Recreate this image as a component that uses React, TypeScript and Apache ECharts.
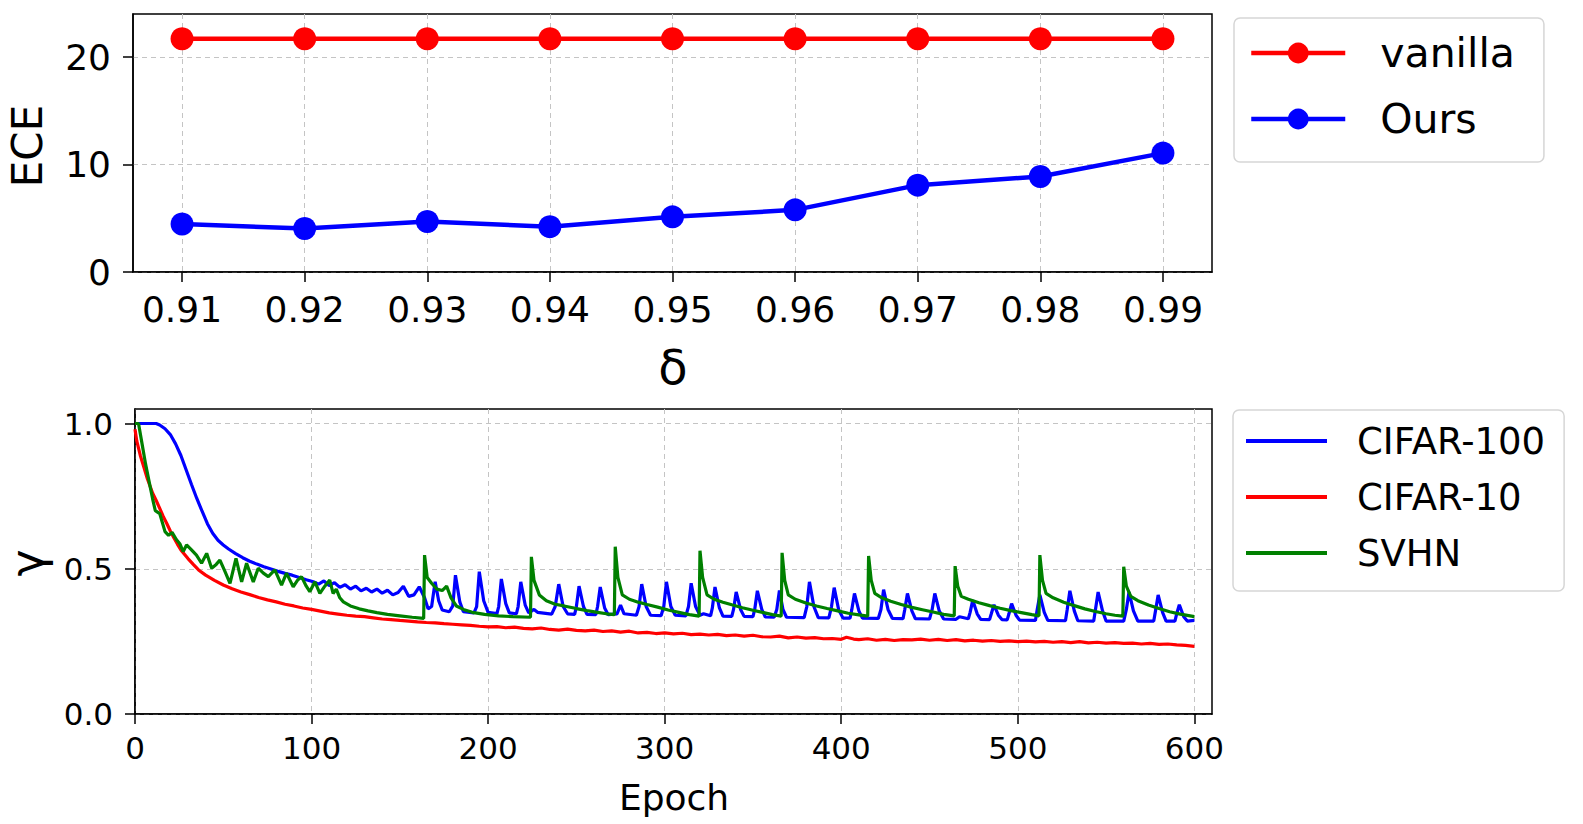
import React, { useEffect, useRef } from "react";
import * as echarts from "echarts";

// ---- top panel: ECE vs delta ----
const DELTAS = [0.91, 0.92, 0.93, 0.94, 0.95, 0.96, 0.97, 0.98, 0.99];
const ECE_VANILLA = [21.7, 21.7, 21.7, 21.7, 21.7, 21.7, 21.7, 21.7, 21.7];
const ECE_OURS = [4.47, 4.04, 4.69, 4.22, 5.13, 5.78, 8.08, 8.88, 11.06];
const ECE_TICKS = [0, 10, 20];

// ---- bottom panel: gamma vs epoch ----
const EPOCH_TICKS = [0, 100, 200, 300, 400, 500, 600];
const GAMMA_TICKS = [0, 0.5, 1.0];

const CIFAR100: number[][] = [
  [0, 1.0], [12, 1.0], [14, 0.995], [17, 0.982], [20, 0.962], [23, 0.93], [26, 0.89], [29, 0.84], [32, 0.79],
  [35, 0.742], [38, 0.698], [41, 0.655], [44, 0.622], [47, 0.598], [50, 0.582], [53, 0.568], [57, 0.552],
  [61, 0.538], [65, 0.526], [69, 0.516], [73, 0.507], [77, 0.499], [81, 0.491], [85, 0.484], [89, 0.478],
  [93, 0.47], [97, 0.462], [101, 0.455], [104, 0.447], [107, 0.458], [110, 0.442], [113, 0.452], [116, 0.436],
  [119, 0.445], [122, 0.43], [125, 0.44], [128, 0.424], [131, 0.433], [134, 0.42], [137, 0.43], [140, 0.416],
  [143, 0.426], [146, 0.41], [149, 0.418], [152, 0.44], [155, 0.405], [158, 0.41], [161, 0.438], [164, 0.4],
  [166, 0.362], [168, 0.37], [170, 0.455], [172, 0.39], [174, 0.358], [178, 0.352], [180, 0.372], [181.5, 0.478],
  [184, 0.385], [186, 0.352], [192, 0.348], [193.5, 0.37], [195, 0.49], [197.5, 0.39], [200, 0.35], [205, 0.346],
  [206, 0.37], [207.5, 0.465], [210, 0.38], [212, 0.348], [216, 0.345], [217, 0.37], [218.5, 0.455], [221, 0.375],
  [223, 0.348], [226, 0.36], [228, 0.35], [236, 0.344], [238, 0.37], [240, 0.447], [242.5, 0.37], [245, 0.345],
  [249, 0.343], [250, 0.37], [251.5, 0.44], [254, 0.37], [256, 0.343], [261, 0.342], [262, 0.37], [263.5, 0.437],
  [266, 0.365], [268, 0.342], [273, 0.345], [275, 0.375], [277, 0.345], [284, 0.34], [285.5, 0.37], [287, 0.447],
  [289.5, 0.37], [292, 0.34], [298, 0.339], [299.5, 0.37], [301, 0.455], [303.5, 0.37], [306, 0.34], [312, 0.338],
  [313.5, 0.37], [315, 0.45], [317.5, 0.37], [320, 0.34], [322, 0.345], [326, 0.338], [327, 0.365], [328.5, 0.437],
  [331, 0.365], [333, 0.337], [338, 0.336], [339, 0.36], [340.5, 0.42], [343, 0.36], [345, 0.336], [350, 0.335],
  [351, 0.36], [352.5, 0.424], [355, 0.36], [357, 0.334], [362, 0.333], [363.5, 0.36], [365, 0.425], [367, 0.36],
  [369, 0.333], [379, 0.332], [380.5, 0.37], [382, 0.455], [384.5, 0.37], [387, 0.332], [393, 0.331], [394.5, 0.37],
  [396, 0.435], [398.5, 0.36], [401, 0.33], [405, 0.33], [406, 0.36], [407.5, 0.415], [410, 0.355], [412, 0.33],
  [421, 0.329], [422.5, 0.36], [424, 0.428], [426.5, 0.36], [429, 0.329], [435, 0.328], [436, 0.36], [437.5, 0.415],
  [440, 0.355], [442, 0.328], [450, 0.327], [451.5, 0.36], [453, 0.415], [455.5, 0.355], [458, 0.327], [465, 0.326],
  [467, 0.335], [472, 0.328], [473, 0.35], [474.5, 0.392], [477, 0.345], [479, 0.326], [484, 0.325], [485, 0.345],
  [486.5, 0.376], [489, 0.34], [491, 0.325], [494, 0.324], [495, 0.345], [496.5, 0.38], [499, 0.34], [501, 0.323],
  [510, 0.322], [511, 0.36], [512.5, 0.41], [515, 0.35], [517, 0.322], [527, 0.321], [528, 0.36], [529.5, 0.424],
  [532, 0.355], [534, 0.321], [543, 0.32], [544, 0.36], [545.5, 0.42], [548, 0.355], [550, 0.32], [560, 0.32],
  [561.5, 0.36], [563, 0.42], [565.5, 0.355], [568, 0.32], [577, 0.32], [578, 0.355], [579.5, 0.41], [582, 0.35],
  [584, 0.32], [589, 0.32], [590, 0.345], [591.5, 0.376], [594, 0.335], [596, 0.32], [600, 0.322],
];

const CIFAR10: number[][] = [
  [0, 0.98], [1, 0.94], [3, 0.89], [5, 0.85], [7, 0.81], [10, 0.76], [12, 0.735], [14, 0.708], [16, 0.68],
  [18, 0.656], [20, 0.63], [22, 0.607], [24, 0.585], [26, 0.565], [28, 0.55], [30, 0.535], [33, 0.515], [36, 0.496],
  [40, 0.478], [45, 0.46], [50, 0.444], [55, 0.431], [60, 0.42], [65, 0.411], [70, 0.401], [75, 0.393], [80, 0.386],
  [85, 0.378], [90, 0.372], [95, 0.365], [100, 0.36], [105, 0.354], [110, 0.348], [115, 0.344], [120, 0.34],
  [125, 0.337], [130, 0.335], [135, 0.331], [140, 0.327], [145, 0.325], [150, 0.322], [155, 0.32], [160, 0.317],
  [165, 0.315], [170, 0.314], [175, 0.311], [180, 0.309], [185, 0.307], [190, 0.305], [195, 0.302], [200, 0.3],
  [205, 0.301], [210, 0.297], [215, 0.299], [220, 0.295], [225, 0.293], [230, 0.296], [235, 0.291], [240, 0.289],
  [245, 0.292], [250, 0.288], [255, 0.286], [260, 0.289], [265, 0.284], [270, 0.286], [275, 0.282], [280, 0.285],
  [285, 0.279], [290, 0.281], [295, 0.277], [300, 0.279], [305, 0.276], [310, 0.278], [315, 0.273], [320, 0.275],
  [325, 0.272], [330, 0.274], [335, 0.27], [340, 0.272], [345, 0.268], [350, 0.271], [355, 0.266], [360, 0.265],
  [365, 0.268], [370, 0.262], [375, 0.265], [380, 0.261], [385, 0.263], [390, 0.259], [395, 0.26], [400, 0.257],
  [403, 0.264], [407, 0.258], [410, 0.256], [415, 0.259], [420, 0.254], [425, 0.257], [430, 0.253], [435, 0.256],
  [440, 0.255], [445, 0.258], [450, 0.254], [455, 0.257], [460, 0.253], [465, 0.256], [470, 0.252], [475, 0.254],
  [480, 0.251], [485, 0.253], [490, 0.25], [495, 0.252], [500, 0.249], [505, 0.251], [510, 0.248], [515, 0.25],
  [520, 0.247], [525, 0.249], [530, 0.246], [535, 0.249], [540, 0.245], [545, 0.247], [550, 0.244], [555, 0.246],
  [560, 0.243], [565, 0.244], [570, 0.241], [575, 0.243], [580, 0.24], [585, 0.241], [590, 0.238], [595, 0.236],
  [600, 0.233],
];

const SVHN: number[][] = [
  [0, 1.0], [2, 1.0], [4, 0.93], [6, 0.86], [8, 0.8], [10, 0.74], [11.5, 0.7], [14, 0.69], [17, 0.628], [19, 0.615],
  [21, 0.625], [23.5, 0.6], [25.5, 0.585], [27.3, 0.559], [29.2, 0.582], [32, 0.565], [34.8, 0.547], [37.7, 0.519],
  [40.6, 0.553], [43.4, 0.502], [46, 0.515], [48.1, 0.53], [51, 0.49], [53.8, 0.45], [57.2, 0.536], [60.4, 0.455],
  [63.2, 0.519], [67, 0.455], [69.8, 0.502], [72.7, 0.485], [75.5, 0.473], [79.2, 0.496], [83, 0.444], [85.8, 0.485],
  [89.6, 0.438], [92, 0.46], [94.3, 0.473], [97, 0.44], [99, 0.421], [101.9, 0.455], [104.7, 0.415], [107.5, 0.44],
  [110.3, 0.461], [112.2, 0.415], [114, 0.43], [116, 0.4], [118, 0.386], [122, 0.372], [127, 0.362], [132, 0.355],
  [137, 0.349], [143, 0.343], [150, 0.338], [157, 0.333], [163.5, 0.329], [164, 0.547], [165.5, 0.47], [168, 0.45],
  [171, 0.43], [174, 0.425], [176.5, 0.44], [179, 0.4], [182, 0.372], [186, 0.36], [191, 0.35], [198, 0.343],
  [206, 0.338], [214, 0.335], [224, 0.333], [224.5, 0.541], [226, 0.46], [229, 0.41], [233, 0.39], [238, 0.378],
  [243, 0.372], [250, 0.363], [256, 0.356], [262, 0.35], [267, 0.345], [271.5, 0.342], [272, 0.576], [273.5, 0.47],
  [276, 0.41], [280, 0.395], [285, 0.385], [290, 0.377], [296, 0.368], [302, 0.358], [308, 0.35], [314, 0.342],
  [319.5, 0.337], [320, 0.562], [321.5, 0.47], [324, 0.41], [328, 0.395], [333, 0.385], [338, 0.376], [344, 0.366],
  [350, 0.357], [356, 0.349], [361, 0.342], [366, 0.337], [366.5, 0.555], [368, 0.46], [370, 0.41], [374, 0.395],
  [380, 0.382], [386, 0.372], [392, 0.363], [398, 0.355], [404, 0.347], [410, 0.341], [415, 0.337], [415.5, 0.544],
  [417, 0.46], [419, 0.415], [423, 0.4], [428, 0.388], [434, 0.377], [440, 0.367], [446, 0.359], [452, 0.351],
  [458, 0.343], [464, 0.338], [464.5, 0.509], [466, 0.44], [468, 0.405], [472, 0.395], [478, 0.383], [484, 0.373],
  [490, 0.364], [496, 0.356], [502, 0.349], [508, 0.342], [512, 0.338], [512.5, 0.547], [514, 0.46], [516, 0.415],
  [520, 0.4], [526, 0.385], [532, 0.373], [538, 0.362], [544, 0.353], [550, 0.345], [555, 0.34], [559.5, 0.337],
  [560, 0.507], [561.5, 0.44], [564, 0.405], [568, 0.39], [574, 0.375], [580, 0.363], [586, 0.352], [592, 0.344],
  [600, 0.335],
];

const FONT = "DejaVu Sans";
const BLACK = "#000000";

function buildOption(): any {
  const gridLine = { show: true, lineStyle: { color: "#c4c4c4", type: [5, 4], width: 1 } };
  const axisLine = { show: true, onZero: false, lineStyle: { color: BLACK, width: 1.5 } };
  const tick = (vals: number[]) => ({
    show: true,
    inside: false,
    length: 10,
    customValues: vals,
    lineStyle: { color: BLACK, width: 1.5 },
  });

  return {
    animation: false,
    backgroundColor: "#ffffff",
    textStyle: { fontFamily: FONT },
    grid: [
      { left: 133, top: 14, width: 1079, height: 258, show: true, borderColor: BLACK, borderWidth: 1.5, backgroundColor: "transparent" },
      { left: 135, top: 409, width: 1077, height: 305, show: true, borderColor: BLACK, borderWidth: 1.5, backgroundColor: "transparent" },
    ],
    xAxis: [
      {
        type: "value",
        gridIndex: 0,
        min: 0.906,
        max: 0.994,
        axisLine,
        axisTick: tick(DELTAS),
        axisLabel: {
          customValues: DELTAS,
          formatter: (v: number) => v.toFixed(2),
          fontSize: 36,
          fontFamily: FONT,
          color: BLACK,
          margin: 19,
        },
        splitLine: gridLine,
      },
      {
        type: "value",
        gridIndex: 1,
        min: 0,
        max: 610,
        axisLine,
        axisTick: tick(EPOCH_TICKS),
        axisLabel: {
          customValues: EPOCH_TICKS,
          formatter: (v: number) => String(v),
          fontSize: 31,
          fontFamily: FONT,
          color: BLACK,
          margin: 18,
        },
        splitLine: gridLine,
      },
    ],
    yAxis: [
      {
        type: "value",
        gridIndex: 0,
        min: 0,
        max: 24,
        axisLine,
        axisTick: tick(ECE_TICKS),
        axisLabel: {
          customValues: ECE_TICKS,
          formatter: (v: number) => String(v),
          fontSize: 36,
          fontFamily: FONT,
          color: BLACK,
          margin: 22,
        },
        splitLine: gridLine,
      },
      {
        type: "value",
        gridIndex: 1,
        min: 0,
        max: 1.05,
        axisLine,
        axisTick: tick(GAMMA_TICKS),
        axisLabel: {
          customValues: GAMMA_TICKS,
          formatter: (v: number) => v.toFixed(1),
          fontSize: 31,
          fontFamily: FONT,
          color: BLACK,
          margin: 22,
        },
        splitLine: gridLine,
      },
    ],
    legend: [
      {
        data: ["vanilla", "Ours"],
        orient: "vertical",
        left: 1234,
        top: 18,
        padding: [13, 29, 21, 15],
        itemGap: 22,
        itemWidth: 94,
        itemHeight: 26,
        selectedMode: false,
        backgroundColor: "#ffffff",
        borderColor: "#d6d6d6",
        borderWidth: 1.5,
        borderRadius: 6,
        lineStyle: { width: 4.5 },
        textStyle: { fontSize: 41, fontFamily: FONT, color: BLACK, lineHeight: 44, padding: [0, 0, 0, 30] },
      },
      {
        data: [
          { name: "CIFAR-100", icon: "rect", itemStyle: { color: "#0000ff" } },
          { name: "CIFAR-10", icon: "rect", itemStyle: { color: "#ff0000" } },
          { name: "SVHN", icon: "rect", itemStyle: { color: "#008000" } },
        ],
        orient: "vertical",
        left: 1233,
        top: 410,
        padding: [11, 19, 18, 13],
        itemGap: 16,
        itemWidth: 81,
        itemHeight: 4,
        selectedMode: false,
        backgroundColor: "#ffffff",
        borderColor: "#d6d6d6",
        borderWidth: 1.5,
        borderRadius: 6,
        textStyle: { fontSize: 37, fontFamily: FONT, color: BLACK, lineHeight: 40, padding: [0, 0, 0, 25] },
      },
    ],
    series: [
      {
        name: "vanilla",
        type: "line",
        xAxisIndex: 0,
        yAxisIndex: 0,
        data: DELTAS.map((d, i) => [d, ECE_VANILLA[i]]),
        symbol: "circle",
        symbolSize: 23,
        lineStyle: { color: "#ff0000", width: 4.5 },
        itemStyle: { color: "#ff0000" },
      },
      {
        name: "Ours",
        type: "line",
        xAxisIndex: 0,
        yAxisIndex: 0,
        data: DELTAS.map((d, i) => [d, ECE_OURS[i]]),
        symbol: "circle",
        symbolSize: 23,
        lineStyle: { color: "#0000ff", width: 4.5 },
        itemStyle: { color: "#0000ff" },
      },
      {
        name: "CIFAR-100",
        type: "line",
        xAxisIndex: 1,
        yAxisIndex: 1,
        data: CIFAR100,
        symbol: "none",
        showSymbol: false,
        lineStyle: { color: "#0000ff", width: 3.2 },
        itemStyle: { color: "#0000ff" },
      },
      {
        name: "CIFAR-10",
        type: "line",
        xAxisIndex: 1,
        yAxisIndex: 1,
        data: CIFAR10,
        symbol: "none",
        showSymbol: false,
        lineStyle: { color: "#ff0000", width: 3.2 },
        itemStyle: { color: "#ff0000" },
      },
      {
        name: "SVHN",
        type: "line",
        xAxisIndex: 1,
        yAxisIndex: 1,
        data: SVHN,
        symbol: "none",
        showSymbol: false,
        lineStyle: { color: "#008000", width: 3.2 },
        itemStyle: { color: "#008000" },
      },
    ],
    graphic: [
      {
        type: "text",
        x: 27,
        y: 146,
        rotation: Math.PI / 2,
        style: { text: "ECE", fontSize: 42, fontFamily: FONT, fill: BLACK, align: "center", verticalAlign: "middle" },
      },
      {
        type: "text",
        x: 673,
        y: 367,
        style: { text: "δ", fontSize: 48, fontFamily: FONT, fill: BLACK, align: "center", verticalAlign: "middle" },
      },
      {
        type: "text",
        x: 27,
        y: 563,
        rotation: Math.PI / 2,
        style: {
          text: "γ",
          fontSize: 46,
          lineHeight: 46,
          fontFamily: FONT,
          fill: BLACK,
          align: "center",
          verticalAlign: "middle",
        },
      },
      {
        type: "text",
        x: 674,
        y: 797,
        style: { text: "Epoch", fontSize: 36, fontFamily: FONT, fill: BLACK, align: "center", verticalAlign: "middle" },
      },
    ],
  };
}

export default function App() {
  const ref = useRef<HTMLDivElement | null>(null);
  useEffect(() => {
    if (!ref.current) return;
    const chart = echarts.init(ref.current, undefined, { renderer: "svg" });
    chart.setOption(buildOption());
    return () => {
      chart.dispose();
    };
  }, []);
  return (
    <div
      ref={ref}
      style={{ position: "absolute", left: 0, top: 0, width: 1583, height: 824, background: "#fff" }}
    />
  );
}
